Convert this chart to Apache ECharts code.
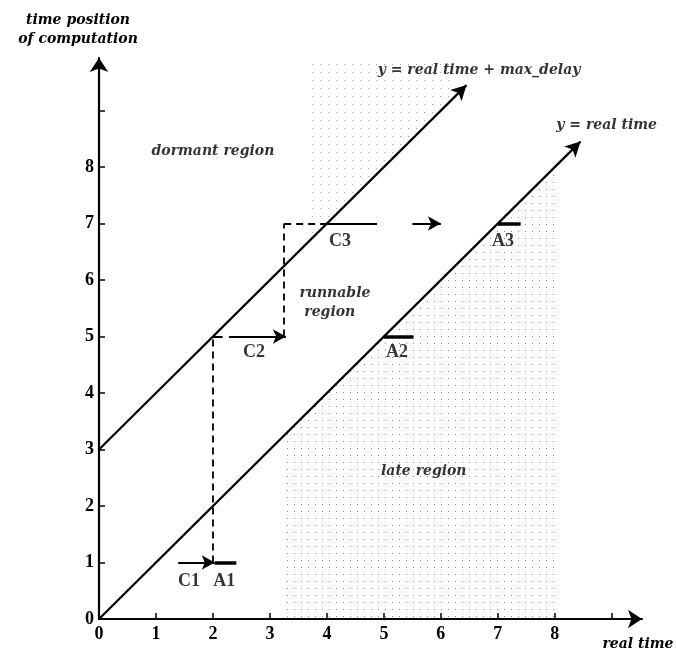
<!DOCTYPE html>
<html>
<head>
<meta charset="utf-8">
<script src="https://cdn.jsdelivr.net/npm/echarts@6/dist/echarts.min.js"></script>
<style>html,body{margin:0;padding:0;background:#fff;}#c{width:676px;height:659px;}</style>
</head>
<body>
<div id="c"></div>
<script>
// ---- data ----
const xTicks = [0,1,2,3,4,5,6,7,8];
const xTickMarks = [0,1,2,3,4,5,6,7,8,9];
const yTicks = [0,1,2,3,4,5,6,7,8];
const yTickMarks = [0,1,2,3,4,5,6,7,8,9];
// diagonal boundary lines [x1,y1,x2,y2]
const lineRealTime = [0, 0, 8.45, 8.45];
const lineMaxDelay = [0, 3, 6.45, 9.45];
// solid arrows
const solidArrows = [[1.39,1,2.03,1],[2.28,5,3.28,5],[5.5,7,6.0,7]];
// solid plain segments
const solidSegs = [[2.0,5,2.17,5],[4.0,7,4.88,7]];
// dashed segments
const dashedSegs = [[2,1,2,5],[3.25,5,3.25,7],[3.25,7,4.0,7]];
// thick bars (A1, A2, A3)
const thickBars = [[2.03,1,2.41,1],[5.0,5,5.52,5],[7.0,7,7.4,7]];
// stippled regions
const lateRegion = [[3.3,3.3],[8,8]];
const dormantRegion = [[3.7,6.7],[6.2,9.2]];
// labels [text, x, y]
const pointLabels = [['C1',1.58,0.66],['A1',2.2,0.66],['C2',2.72,4.72],['A2',5.23,4.72],['C3',4.23,6.68],['A3',7.09,6.68]];
const regionLabels = [['dormant region',2.0,8.27],['runnable',4.14,5.77],['region',4.05,5.43],['late region',5.7,2.62],
  ['y = real time + max_delay',6.67,9.72],['y = real time',8.91,8.74]];

const serif = '"Liberation Serif", "DejaVu Serif", serif';
const wideSerif = '"DejaVu Serif", "Liberation Serif", serif';

function seg(a){ return [{coord:[a[0],a[1]]},{coord:[a[2],a[3]]}]; }

const chart = echarts.init(document.getElementById('c'), null, {renderer:'canvas'});
const option = {
  animation:false,
  backgroundColor:'#fff',
  grid:{left:99, right:34, top:58, bottom:40},
  xAxis:{type:'value', min:0, max:9.53, interval:1,
    splitLine:{show:false},
    axisLine:{lineStyle:{color:'#000', width:2.2}, symbol:['none','arrow'], symbolSize:[14,14]},
    axisTick:{inside:true, length:6, lineStyle:{color:'#000', width:1.5}, customValues:xTickMarks},
    axisLabel:{color:'#000', fontFamily:serif, fontWeight:'bold', fontSize:18, margin:6,
      customValues:xTicks}
  },
  yAxis:{type:'value', min:0, max:9.93, interval:1,
    splitLine:{show:false},
    axisLine:{lineStyle:{color:'#000', width:2.2}, symbol:['none','arrow'], symbolSize:[14,14]},
    axisTick:{inside:true, length:6, lineStyle:{color:'#000', width:1.5}, customValues:yTickMarks},
    axisLabel:{color:'#000', fontFamily:serif, fontWeight:'bold', fontSize:18, margin:5,
      customValues:yTicks}
  },
  graphic:[
    {type:'text', x:78, y:11, style:{text:'time position\nof computation', textAlign:'center', font:'italic bold 14px '+wideSerif, fill:'#000', lineHeight:19}},
    {type:'text', x:638, y:637, style:{text:'real time', textAlign:'center', font:'italic bold 14px '+wideSerif, fill:'#000'}}
  ],
  series:[
    {type:'line', data:lateRegion, symbol:'none', silent:true, z:1,
      lineStyle:{width:0, opacity:0}, areaStyle:{color:'rgba(255,255,255,0)', origin:'start', opacity:1},
      itemStyle:{decal:{symbol:'rect', symbolSize:1, dashArrayX:[1,6], dashArrayY:[1,6], color:'rgba(0,0,0,0.45)', rotation:0}}},
    {type:'line', data:dormantRegion, symbol:'none', silent:true, z:1,
      lineStyle:{width:0, opacity:0}, areaStyle:{color:'rgba(255,255,255,0)', origin:'end', opacity:1},
      itemStyle:{decal:{symbol:'rect', symbolSize:1, dashArrayX:[1,7], dashArrayY:[1,7], color:'rgba(0,0,0,0.35)', rotation:0}}},
    {type:'line', data:[], z:3, markLine:{silent:true, animation:false, symbol:['none','arrow'], symbolSize:[12,15], label:{show:false},
      lineStyle:{color:'#000', width:2.2, type:'solid'},
      data:[seg(lineRealTime), seg(lineMaxDelay)]}},
    {type:'line', data:[], z:3, markLine:{silent:true, animation:false, symbol:['none','arrow'], symbolSize:[11,13], label:{show:false},
      lineStyle:{color:'#000', width:2, type:'solid'},
      data:solidArrows.map(seg)}},
    {type:'line', data:[], z:3, markLine:{silent:true, animation:false, symbol:['none','none'], label:{show:false},
      lineStyle:{color:'#000', width:2, type:'solid'},
      data:solidSegs.map(seg)}},
    {type:'line', data:[], z:3, markLine:{silent:true, animation:false, symbol:['none','none'], label:{show:false},
      lineStyle:{color:'#000', width:1.8, type:[7,5]},
      data:dashedSegs.map(seg)}},
    {type:'line', data:[], z:3, markLine:{silent:true, animation:false, symbol:['none','none'], label:{show:false},
      lineStyle:{color:'#000', width:3.5, type:'solid', cap:'butt'},
      data:thickBars.map(seg)}},
    {type:'scatter', z:4, symbolSize:0, silent:true,
      data:pointLabels.map(p=>({value:[p[1],p[2]], name:p[0]})),
      label:{show:true, position:'inside', formatter:'{b}', color:'#000', fontFamily:serif, fontWeight:'bold', fontSize:18}},
    {type:'scatter', z:4, symbolSize:0, silent:true,
      data:regionLabels.map(p=>({value:[p[1],p[2]], name:p[0]})),
      label:{show:true, position:'inside', formatter:'{b}', color:'#000', fontFamily:wideSerif, fontWeight:'bold', fontStyle:'italic', fontSize:14}}
  ]
};
chart.setOption(option);
</script>
</body>
</html>
